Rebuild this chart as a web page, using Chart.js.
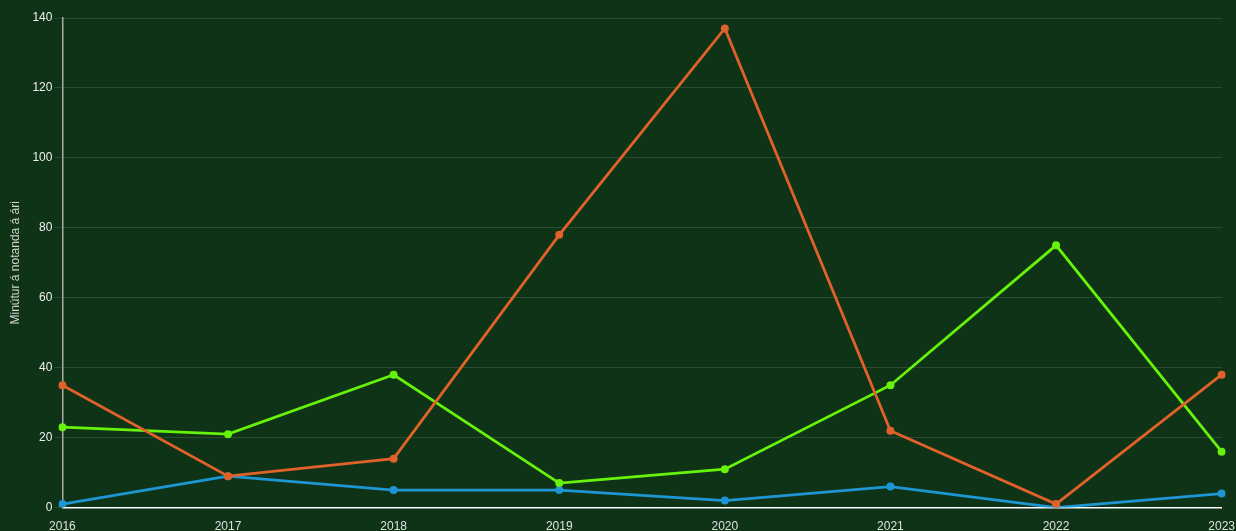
<!DOCTYPE html>
<html>
<head>
<meta charset="utf-8">
<script src="https://cdn.jsdelivr.net/npm/chart.js@4"></script>
<style>
  html, body { margin: 0; padding: 0; background: #0f3316; overflow: hidden; }
  #wrap { width: 1239px; height: 538px; }
</style>
</head>
<body>
<div id="wrap"><canvas id="mychart"></canvas></div>
<script>
var years = ['2016', '2017', '2018', '2019', '2020', '2021', '2022', '2023']
var orangeSeries = [35, 9, 14, 78, 137, 22, 1, 38]
var greenSeries = [23, 21, 38, 7, 11, 35, 75, 16]
var blueSeries = [1, 9, 5, 5, 2, 6, 0, 4]

Chart.defaults.font.family = 'Helvetica, Arial, "Liberation Sans", sans-serif'
Chart.defaults.font.size = 12

function line(data, color) {
    return {
        data: data,
        borderColor: color,
        backgroundColor: color,
        borderWidth: 2.8,
        pointRadius: 4,
        pointBorderWidth: 0,
        pointHoverRadius: 4,
        tension: 0,
        fill: false
    }
}

var ctx = document.getElementById('mychart').getContext('2d')
var linechart = new Chart(ctx, {
    type: 'line',
    data: {
        labels: years,
        datasets: [
            line(orangeSeries, '#e0622a'),
            line(greenSeries, '#66f20a'),
            line(blueSeries, '#1e96d4')
        ]
    },
    options: {
        responsive: true,
        maintainAspectRatio: false,
        animation: false,
        layout: { padding: { top: 18, left: 0, right: 0, bottom: 0 } },
        plugins: {
            legend: { display: false },
            tooltip: { enabled: false }
        },
        scales: {
            x: {
                grid: { display: false },
                border: { color: '#ffffff', width: 1.5 },
                ticks: { color: '#e0e0e0', maxRotation: 0, padding: 4 }
            },
            y: {
                min: 0,
                max: 140,
                ticks: { stepSize: 20, color: '#f0f0f0', padding: 2 },
                grid: { color: 'rgba(255,255,255,0.12)', tickLength: 8 },
                border: { color: '#aaaaaa', width: 1.5 },
                title: {
                    display: true,
                    text: 'Minútur á notanda á ári',
                    color: '#d4d4d4',
                    font: { size: 12 },
                    padding: { top: 8, bottom: 8 }
                }
            }
        }
    }
})
</script>
</body>
</html>
